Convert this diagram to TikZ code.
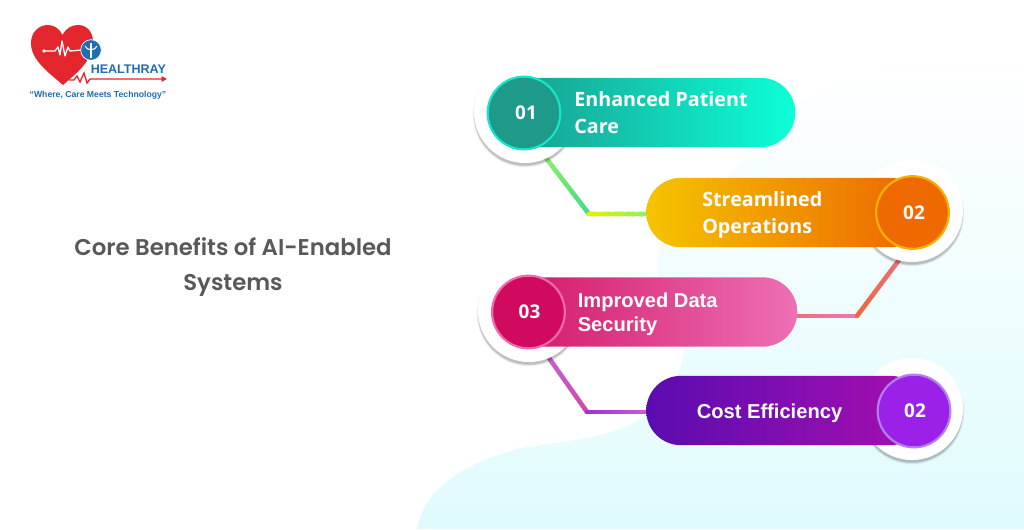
\documentclass[tikz,border=0pt]{standalone}
\usepackage{fontspec}
\usetikzlibrary{shapes.misc,calc,arrows.meta}
\setmainfont{Open Sans}
\newfontfamily\titlefont{Poppins}[UprightFont=* SemiBold,BoldFont=* Bold]
\newfontfamily\opensansb{Open Sans}[UprightFont=* Bold]
\newfontfamily\hv{Liberation Sans}[UprightFont=* Bold]
\definecolor{bgbot}{HTML}{E0FBFD}
\definecolor{logored}{HTML}{E3262E}
\definecolor{logoblue}{HTML}{1F6DB3}
\definecolor{wa}{HTML}{3FDC85}
\definecolor{wb}{HTML}{8CF06A}
\definecolor{wc}{HTML}{E6F000}
\definecolor{wd}{HTML}{EE78B8}
\definecolor{we}{HTML}{EC7078}
\definecolor{wf}{HTML}{E86A40}
\definecolor{wg}{HTML}{D048A8}
\definecolor{wh}{HTML}{C860D0}
\definecolor{wi}{HTML}{A030D8}
\tikzset{
  pill/.style={rounded rectangle,minimum height=52pt,inner sep=0pt,anchor=west},
  halo/.style={circle,fill=white,minimum size=76.5pt,inner sep=0pt},
  disc/.style={circle,draw,line width=1.6pt,minimum size=54.5pt,inner sep=0pt},
  num/.style={text=white,inner sep=0pt,font=\opensansb\fontsize{14.2}{14.2}\selectfont},
  label/.style={text=white,align=left,anchor=west,inner sep=0pt},
  olabel/.style={label,font=\opensansb\fontsize{14.8}{20.2}\selectfont},
  ilabel/.style={label,font=\hv\fontsize{15.1}{18}\selectfont},
  wire/.style={line width=3.4pt,line cap=round,line join=round},
}
% gradient stroke between two named points
\newcommand{\gradseg}[4]{%
  \foreach \t [evaluate=\t as \p using {100-\t*100/19},evaluate=\t as \q using {\t/19},evaluate=\t as \r using {(\t+1)/19}] in {0,...,18}
    \draw[wire,color=#4!\p!#3] ($(#1)!\q!(#2)$) -- ($(#1)!\r!(#2)$);%
}
\newcommand{\haloshadow}[1]{%
  \foreach \s/\o in {52.5/.025,52/.035,51.5/.05,51/.07,50.5/.09}
    \fill[black,opacity=\o] ($(#1)+(0,3)$) circle[radius=\s];%
}
\begin{document}
\begin{tikzpicture}[x=0.75pt,y=-0.75pt]
\useasboundingbox (0,0) rectangle (1024,529);
\fill[white] (0,0) rectangle (1024,529);
% background blob
\shade[top color=white,bottom color=bgbot]
  (417,529) .. controls (424,495) and (450,468) .. (517,449)
  .. controls (565,440) and (615,440) .. (650,412)
  .. controls (680,385) and (690,350) .. (682,325)
  .. controls (672,300) and (650,280) .. (660,250)
  .. controls (670,220) and (725,190) .. (745,155)
  .. controls (770,110) and (830,75) .. (900,68)
  .. controls (950,63) and (990,62) .. (1024,62)
  -- (1024,529) -- cycle;

% logo
\fill[logored] (63,85) .. controls (48,72) and (31,60) .. (31,43)
  .. controls (31,32) and (39,25) .. (48,25)
  .. controls (54,25) and (60,29) .. (62.5,35)
  .. controls (66,28) and (72,25) .. (78,25)
  .. controls (87,25) and (93,32) .. (93,42)
  .. controls (93,60) and (78,72) .. (63,85) -- cycle;
\draw[white,line width=1pt,line join=round] (44,51) -- (55,51) -- (58,47) -- (60,55) -- (62,41) -- (65,56) -- (68,47) -- (70,51) -- (82,50);
\fill[white] (44,51) circle[radius=1.8];
\node[circle,fill=logoblue,draw=white,line width=.5pt,minimum size=15.5pt,inner sep=0pt] (logoc) at (91,50) {};
\draw[white,line width=.8pt] (91,43) -- (91,58);
\draw[white,line width=.8pt] (85,46) .. controls (87,51) and (95,51) .. (97,46);
\node[anchor=base west,inner sep=0pt,text=logoblue,font=\hv\fontsize{9.4}{9.4}\selectfont] (brand) at (90.5,73.5) {HEALTHRAY};
\coordinate (ecgend) at (167,79);
\draw[logored,line width=1pt,-{Triangle[length=4pt,width=4pt]}] (69,80) -- (74,80) -- (77,76) -- (80,82) -- (84,73) -- (87,83) -- (90,79) -- (ecgend);
\node[inner sep=0pt,text=logoblue,font=\hv\fontsize{6.5}{7}\selectfont] (tag) at (98,95) {“Where, Care Meets Technology”};

% title
\node[inner sep=0pt,align=center,text=black!65,font=\titlefont\fontsize{17.1}{26.25}\selectfont] (title) at (233,267) {Core Benefits of AI-Enabled\\Systems};

% anchors
\coordinate (h1c) at (525,112);
\coordinate (h2c) at (912,211);
\coordinate (h3c) at (529,311);
\coordinate (h4c) at (912,409);
\coordinate (d1) at (524,113);
\coordinate (d2) at (912.5,212.5);
\coordinate (d3) at (528.5,312);
\coordinate (d4) at (914,411);
\coordinate (c1a) at (546,158);
\coordinate (c1b) at (589,214);
\coordinate (p2l) at (648,214);
\coordinate (c2a) at (797,316);
\coordinate (c2b) at (857,316);
\coordinate (c2c) at (899,260);
\coordinate (c3a) at (549,358);
\coordinate (c3b) at (587,412);
\coordinate (p4l) at (648,412);

% connectors
\gradseg{c1a}{c1b}{wa}{wb}
\gradseg{c1b}{p2l}{wb}{wc}
\gradseg{c2a}{c2b}{wd}{we}
\gradseg{c2b}{c2c}{we}{wf}
\gradseg{c3a}{c3b}{wg}{wh}
\gradseg{c3b}{p4l}{wh}{wi}

% halos
\haloshadow{h1c}\node[halo] (h1) at (h1c) {};
\haloshadow{h2c}\node[halo] (h2) at (h2c) {};
\haloshadow{h3c}\node[halo] (h3) at (h3c) {};
\haloshadow{h4c}\node[halo] (h4) at (h4c) {};

% pills
\node[pill,minimum width=231pt,left color={rgb,255:red,26;green,150;blue,138},middle color={rgb,255:red,22;green,172;blue,152},right color={rgb,255:red,13;green,255;blue,216}] (p1) at (487,112.5) {};
\node[pill,minimum width=209pt,left color={rgb,255:red,245;green,196;blue,0},right color={rgb,255:red,236;green,100;blue,0}] (p2) at (646,212.5) {};
\node[pill,minimum width=229.5pt,left color={rgb,255:red,208;green,17;blue,100},right color={rgb,255:red,238;green,112;blue,180}] (p3) at (491,312) {};
\node[pill,minimum width=209pt,left color={rgb,255:red,90;green,12;blue,176},right color={rgb,255:red,168;green,15;blue,176}] (p4) at (646,410.5) {};

% discs
\node[disc,fill={rgb,255:red,29;green,154;blue,138},draw={rgb,255:red,21;green,230;blue,200}] (n1) at (d1) {};
\node[disc,fill={rgb,255:red,238;green,106;blue,0},draw={rgb,255:red,245;green,176;blue,0}] (n2) at (d2) {};
\node[disc,fill={rgb,255:red,207;green,10;blue,95},draw={rgb,255:red,240;green,106;blue,176}] (n3) at (d3) {};
\node[disc,fill={rgb,255:red,155;green,32;blue,232},draw={rgb,255:red,176;green,128;blue,240}] (n4) at (d4) {};
\node[num] (m1) at (526,113) {01};
\node[num] (m2) at (914,212.5) {02};
\node[num] (m3) at (529.5,312) {03};
\node[num] (m4) at (915,411) {02};

% labels
\node[olabel] (t1) at (574,113) {Enhanced Patient\\Care};
\node[olabel] (t2) at (702,215) {Streamlined\\Operations};
\node[ilabel] (t3) at (577.5,314.5) {Improved Data\\Security};
\node[ilabel] (t4) at (696.5,413) {Cost Efficiency};
\end{tikzpicture}
\end{document}
